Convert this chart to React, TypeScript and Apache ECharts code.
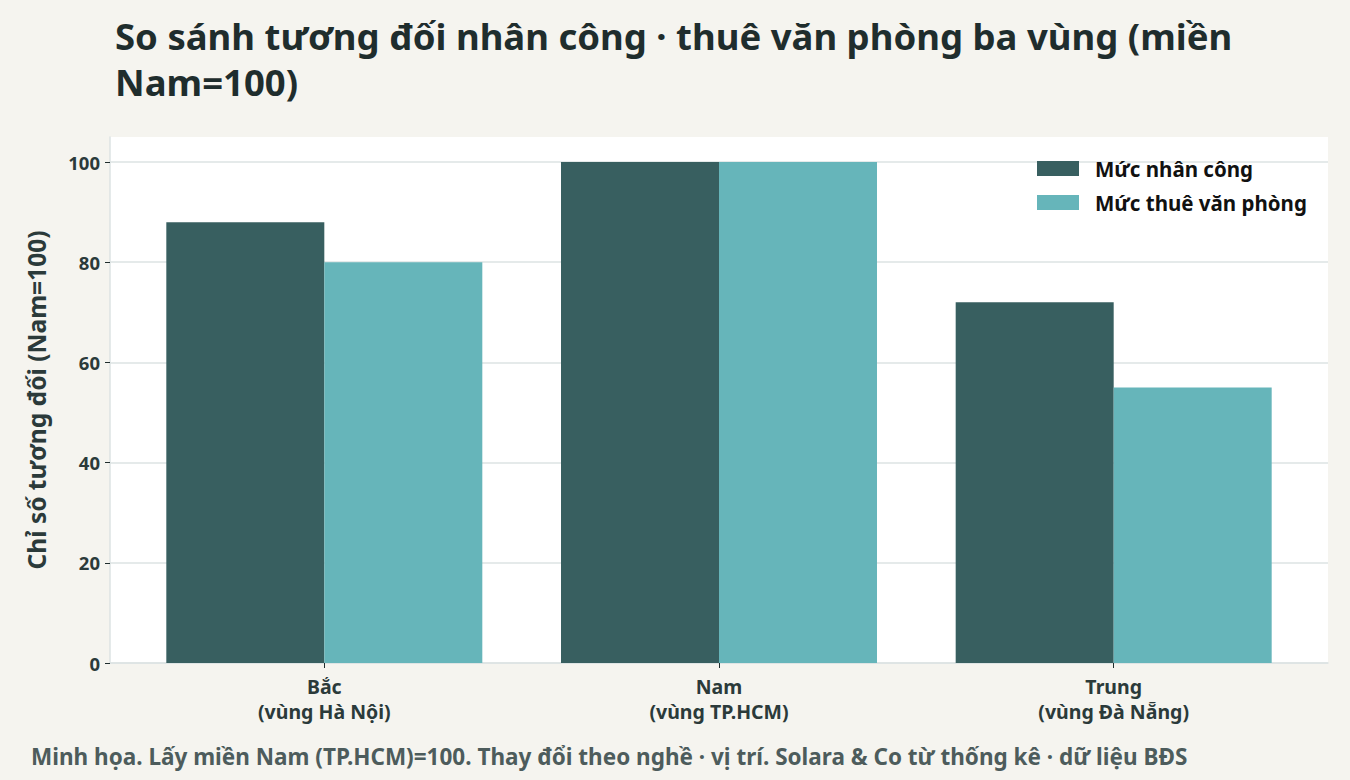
import * as echarts from "echarts";
import { useEffect, useRef } from "react";

const regions = ["Bắc\n(vùng Hà Nội)", "Nam\n(vùng TP.HCM)", "Trung\n(vùng Đà Nẵng)"];
const laborIndex = [88, 100, 72];
const officeRentIndex = [80, 100, 55];
const yTicks = [0, 20, 40, 60, 80, 100];
const seriesNames = ["Mức nhân công", "Mức thuê văn phòng"];

const FONT = "'Noto Sans', 'DejaVu Sans', sans-serif";
const INK = "#1f2d2d";

export default function App() {
  const ref = useRef<HTMLDivElement | null>(null);

  useEffect(() => {
    if (!ref.current) {
      return;
    }

    const chart = echarts.init(ref.current, undefined, { renderer: "svg" });
    chart.setOption({
      animation: false,
      backgroundColor: "#f5f4ef",
      textStyle: { fontFamily: FONT },
      title: [
        {
          text: "So sánh tương đối nhân công · thuê văn phòng ba vùng (miền\nNam=100)",
          left: 110,
          top: 8,
          textStyle: { fontFamily: FONT, fontSize: 36.5, fontWeight: "bold", color: INK, lineHeight: 46 }
        },
        {
          text: "Minh họa. Lấy miền Nam (TP.HCM)=100. Thay đổi theo nghề · vị trí. Solara & Co từ thống kê · dữ liệu BĐS",
          left: 26,
          top: 740,
          textStyle: { fontFamily: FONT, fontSize: 22.5, fontWeight: "bold", color: "#4d5c5c" }
        }
      ],
      legend: {
        orient: "vertical",
        left: 1037,
        top: 158,
        padding: 0,
        icon: "rect",
        itemWidth: 42,
        itemHeight: 15,
        itemGap: 13,
        data: seriesNames,
        textStyle: { fontFamily: FONT, fontSize: 20.5, fontWeight: "bold", color: "#111111", padding: [0, 0, 0, 11] }
      },
      grid: {
        left: 110,
        right: 22,
        top: 137,
        bottom: 117,
        show: true,
        backgroundColor: "#ffffff",
        borderWidth: 0
      },
      xAxis: {
        type: "value",
        min: -0.543,
        max: 2.543,
        splitLine: { show: false },
        axisLine: { show: true, onZero: false, lineStyle: { color: "#dde3e3", width: 1.5 } },
        axisTick: { show: true, customValues: [0, 1, 2], length: 5, lineStyle: { color: INK } },
        axisLabel: {
          customValues: [0, 1, 2],
          formatter: (value: number) => regions[Math.round(value)],
          fontFamily: FONT,
          fontSize: 19.5,
          fontWeight: "bold",
          color: "#2b3a3a",
          lineHeight: 25,
          margin: 11
        }
      },
      yAxis: {
        type: "value",
        min: 0,
        max: 105,
        interval: 20,
        name: "Chỉ số tương đối (Nam=100)",
        nameLocation: "middle",
        nameGap: 61,
        nameTextStyle: { fontFamily: FONT, fontSize: 24.5, fontWeight: "bold", color: "#2b3a3a" },
        axisLine: { show: true, onZero: false, lineStyle: { color: "#dde3e3", width: 1.5 } },
        axisTick: { show: true, customValues: yTicks, length: 5, lineStyle: { color: INK } },
        splitLine: { show: true, lineStyle: { color: "#dde3e3", width: 1.5 } },
        axisLabel: {
          customValues: yTicks,
          fontFamily: FONT,
          fontSize: 18.5,
          fontWeight: "bold",
          color: "#2b3a3a",
          margin: 10
        }
      },
      series: [
        {
          name: seriesNames[0],
          type: "bar",
          data: laborIndex.map((v, i) => [i, v]),
          barWidth: 158,
          barGap: "0%",
          itemStyle: { color: "#385f60" }
        },
        {
          name: seriesNames[1],
          type: "bar",
          data: officeRentIndex.map((v, i) => [i, v]),
          barWidth: 158,
          barGap: "0%",
          itemStyle: { color: "#66b5ba" }
        }
      ]
    });

    return () => {
      chart.dispose();
    };
  }, []);

  return (
    <div
      ref={ref}
      style={{ position: "fixed", left: 0, top: 0, width: 1350, height: 780 }}
    />
  );
}
